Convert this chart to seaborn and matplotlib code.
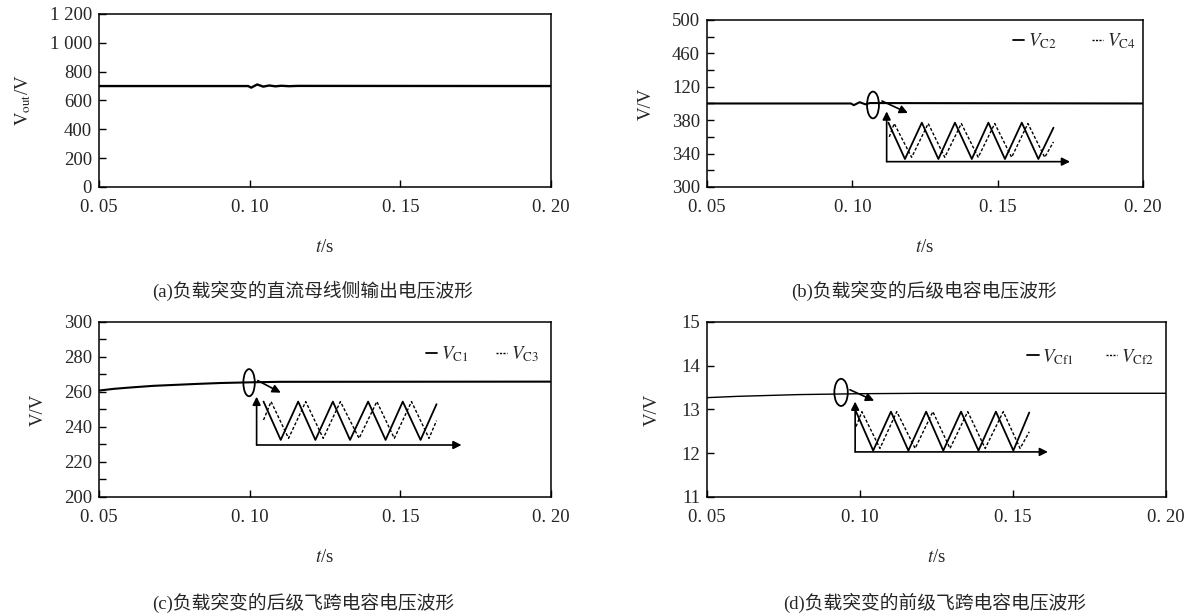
#!/usr/bin/env python3
# plot.py
# Load step response of the converter: DC bus output voltage and capacitor voltages

import matplotlib
matplotlib.use("Agg")
import matplotlib.pyplot as plt
from matplotlib.patches import Ellipse
from matplotlib.ticker import MultipleLocator, NullLocator
import seaborn as sns

# -------------------------
# Data
# -------------------------
T_TICKS = [0.05, 0.10, 0.15, 0.20]
T_TICK_LABELS = ["0. 05", "0. 10", "0. 15", "0. 20"]

# (a) DC bus output voltage
a_t = [0.05, 0.0995, 0.1005, 0.1025, 0.1045, 0.1065, 0.1085, 0.1105, 0.113, 0.116, 0.20]
a_v = [700, 700, 689, 711, 696, 704, 698, 702, 699, 701, 700]
a_yticks = [0, 200, 400, 600, 800, 1000, 1200]
a_ylabels = ["0", "200", "400", "600", "800", "1 000", "1 200"]

# (b) rear stage capacitor voltage
b_t = [0.05, 0.0995, 0.1005, 0.1025, 0.1045, 0.106, 0.20]
b_v = [400, 400, 398, 401.5, 399, 400.5, 400]
b_sol_t = [0.1124, 0.1181, 0.1239, 0.1296, 0.1353, 0.1411, 0.1468, 0.1525, 0.1583, 0.1640, 0.1692]
b_sol_v = [377, 333.5, 377, 333.5, 377, 333.5, 377, 333.5, 377, 333.5, 371]
b_dash_t = [0.1127, 0.1144, 0.1204, 0.1261, 0.1318, 0.1375, 0.1433, 0.1490, 0.1548, 0.1604, 0.1662, 0.1692]
b_dash_v = [360, 376, 335.5, 376, 335.5, 376, 335.5, 376, 335.5, 376, 335.5, 354]
b_yticks = [300, 340, 380, 420, 460, 500]
b_ylabels = ["300", "340", "380", "120", "460", "500"]

# (c) rear stage flying capacitor voltage
c_t = [0.05, 0.055, 0.06, 0.068, 0.0825, 0.09, 0.10, 0.11, 0.20]
c_v = [260.8, 261.8, 262.5, 263.5, 264.6, 265.1, 265.5, 265.8, 265.9]
c_sol_t = [0.1046, 0.1103, 0.1161, 0.1218, 0.1276, 0.1333, 0.1393, 0.1451, 0.1508, 0.1567, 0.1620]
c_sol_v = [254.5, 232.6, 254.5, 232.6, 254.5, 232.6, 254.5, 232.6, 254.5, 232.6, 253]
c_dash_t = [0.1046, 0.1071, 0.1129, 0.1186, 0.1244, 0.1301, 0.1363, 0.1422, 0.1480, 0.1537, 0.1595, 0.1620]
c_dash_v = [244, 254.5, 233.5, 254.5, 233.5, 254.5, 233.5, 254.5, 233.5, 254.5, 233.5, 243.6]
c_yticks = [200, 220, 240, 260, 280, 300]

# (d) front stage flying capacitor voltage
d_t = [0.05, 0.06, 0.07, 0.08, 0.09, 0.10, 0.12, 0.20]
d_v = [13.27, 13.30, 13.32, 13.34, 13.35, 13.36, 13.37, 13.37]
d_sol_t = [0.0987, 0.1043, 0.1101, 0.1158, 0.1216, 0.1272, 0.1330, 0.1387, 0.1444, 0.1501, 0.1553]
d_sol_v = [12.95, 12.06, 12.95, 12.06, 12.95, 12.06, 12.95, 12.06, 12.95, 12.06, 12.93]
d_dash_t = [0.0987, 0.1006, 0.1065, 0.1120, 0.1180, 0.1238, 0.1294, 0.1352, 0.1409, 0.1468, 0.1523, 0.1553]
d_dash_v = [12.61, 12.95, 12.11, 12.95, 12.11, 12.95, 12.11, 12.95, 12.11, 12.95, 12.11, 12.49]
d_yticks = [11, 12, 13, 14, 15]

# -------------------------
# Style
# -------------------------
sns.set_style("ticks")
plt.rcParams["font.family"] = ["Liberation Serif", "Noto Sans CJK SC", "DejaVu Sans"]
plt.rcParams["mathtext.fontset"] = "stix"
plt.rcParams["axes.linewidth"] = 1.1
plt.rcParams["axes.edgecolor"] = "black"
FS = 13.5
CJK = ["Liberation Serif", "Noto Sans CJK SC"]
DASH = (0, (2.2, 1.4))


def style_axes(ax, ylim, yticks, ylabels, ylabel, ylabel_x, minor=None):
    ax.set_xlim(0.05, 0.20)
    ax.set_ylim(*ylim)
    ax.set_xticks(T_TICKS)
    ax.set_xticklabels(T_TICK_LABELS)
    ax.set_yticks(yticks)
    ax.set_yticklabels(ylabels)
    if minor:
        ax.yaxis.set_minor_locator(MultipleLocator(minor))
    else:
        ax.yaxis.set_minor_locator(NullLocator())
    ax.tick_params(axis="both", which="both", direction="in", color="black",
                   labelsize=FS, width=1.0)
    ax.tick_params(axis="both", which="major", length=5)
    ax.tick_params(axis="y", which="minor", length=5)
    ax.tick_params(axis="x", pad=9)
    ax.tick_params(axis="y", pad=5)
    for s in ax.spines.values():
        s.set_visible(True)
        s.set_color("black")
    ax.set_xlabel("$t$/s", fontsize=FS, labelpad=16)
    ax.set_ylabel(ylabel, fontsize=FS)
    ax.yaxis.set_label_coords(ylabel_x, 0.5)


def draw_zoom_inset(ax, sol_t, sol_v, dash_t, dash_v, origin, vtop, hend,
                    ell, ell_w, ell_h, arr_from, arr_to, labels):
    sns.lineplot(x=sol_t, y=sol_v, ax=ax, color="black", lw=1.3,
                 estimator=None, sort=False, label=labels[0])
    sns.lineplot(x=dash_t, y=dash_v, ax=ax, color="black", lw=1.0,
                 estimator=None, sort=False, label=labels[1])
    ax.lines[-1].set_linestyle(DASH)
    arrow = dict(arrowstyle="-|>", color="black", lw=1.2, mutation_scale=12,
                 shrinkA=0, shrinkB=0)
    ax.annotate("", xy=(origin[0], vtop), xytext=origin, arrowprops=arrow)
    ax.annotate("", xy=(hend, origin[1]), xytext=origin, arrowprops=arrow)
    ax.annotate("", xy=arr_to, xytext=arr_from, arrowprops=arrow)
    ax.add_patch(Ellipse(ell, ell_w, ell_h, fill=False, lw=1.3, color="black"))


def add_legend(ax, anchor, spacing):
    leg = ax.legend(loc="upper right", bbox_to_anchor=anchor, ncol=2,
                    frameon=False, fontsize=FS, handlelength=0.6,
                    handletextpad=0.2, columnspacing=spacing, borderaxespad=0)
    leg.get_lines()[1].set_linestyle((0, (1.5, 1.0)))


def main():
    fig = plt.figure(figsize=(12, 6.15), dpi=100)
    ax_a = fig.add_axes([0.0825, 0.696, 0.3767, 0.2813])
    ax_b = fig.add_axes([0.5892, 0.696, 0.3633, 0.2715])
    ax_c = fig.add_axes([0.0825, 0.1919, 0.3767, 0.2846])
    ax_d = fig.add_axes([0.5892, 0.1919, 0.3825, 0.2846])

    # (a)
    sns.lineplot(x=a_t, y=a_v, ax=ax_a, color="black", lw=1.7, estimator=None)
    style_axes(ax_a, (0, 1200), a_yticks, a_ylabels,
               r"$\mathrm{V_{out}}$/V", -0.145)

    # (b)
    sns.lineplot(x=b_t, y=b_v, ax=ax_b, color="black", lw=1.5, estimator=None)
    draw_zoom_inset(ax_b, b_sol_t, b_sol_v, b_dash_t, b_dash_v,
                    (0.1118, 330.3), 390.5, 0.1749,
                    (0.1071, 398.2), 0.0041, 32,
                    (0.1102, 403), (0.1191, 388.6),
                    [r"$V_{\rm C2}$", r"$V_{\rm C4}$"])
    style_axes(ax_b, (300, 500), b_yticks, b_ylabels, "V/V", -0.12, minor=20)
    add_legend(ax_b, (1.0, 0.978), 1.9)

    # (c)
    sns.lineplot(x=c_t, y=c_v, ax=ax_c, color="black", lw=1.5, estimator=None)
    draw_zoom_inset(ax_c, c_sol_t, c_sol_v, c_dash_t, c_dash_v,
                    (0.1023, 229.7), 257.3, 0.1703,
                    (0.0998, 265.3), 0.0038, 15.5,
                    (0.1027, 266.5), (0.1103, 259.6),
                    [r"$V_{\rm C1}$", r"$V_{\rm C3}$"])
    style_axes(ax_c, (200, 300), c_yticks, [str(v) for v in c_yticks],
               "V/V", -0.115, minor=10)
    add_legend(ax_c, (0.99, 0.915), 1.5)

    # (d)
    sns.lineplot(x=d_t, y=d_v, ax=ax_d, color="black", lw=1.0, estimator=None)
    draw_zoom_inset(ax_d, d_sol_t, d_sol_v, d_dash_t, d_dash_v,
                    (0.0984, 12.03), 13.18, 0.1614,
                    (0.0938, 13.39), 0.0044, 0.62,
                    (0.0967, 13.45), (0.1046, 13.20),
                    [r"$V_{\rm Cf1}$", r"$V_{\rm Cf2}$"])
    style_axes(ax_d, (11, 15), d_yticks, [str(v) for v in d_yticks],
               "V/V", -0.10)
    add_legend(ax_d, (0.99, 0.90), 1.7)

    # -------------------------
    # Captions
    # -------------------------
    caps = [
        (313, 291, "(a)负载突变的直流母线侧输出电压波形"),
        (924, 291, "(b)负载突变的后级电容电压波形"),
        (303, 603, "(c)负载突变的后级飞跨电容电压波形"),
        (935, 603, "(d)负载突变的前级飞跨电容电压波形"),
    ]
    for x, y, txt in caps:
        fig.text(x / 1200, 1 - y / 615, txt, ha="center", va="center",
                 fontsize=FS, family=CJK)

    fig.savefig("out.png", dpi=100)
    plt.close(fig)


if __name__ == "__main__":
    main()
